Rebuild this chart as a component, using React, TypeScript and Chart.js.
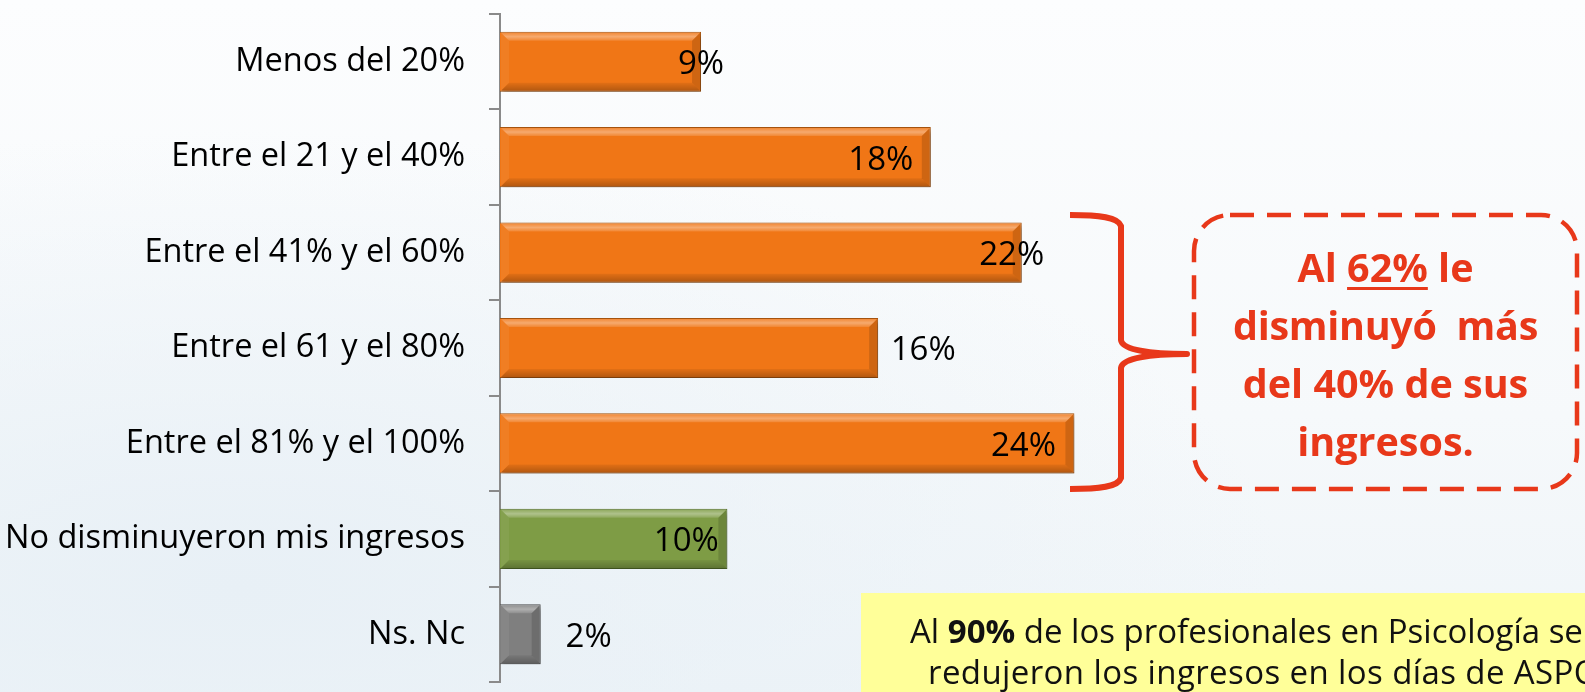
import React, { useEffect, useRef } from "react";
import { Chart, registerables } from "chart.js";

Chart.register(...registerables);

// ---- data ----
const categories = [
  "Menos del 20%",
  "Entre el 21 y el 40%",
  "Entre el 41% y el 60%",
  "Entre el 61 y el 80%",
  "Entre el 81% y el 100%",
  "No disminuyeron mis ingresos",
  "Ns. Nc",
];
const values = [8.4, 18.0, 21.8, 15.8, 24.0, 9.5, 1.7];
const valueLabels = ["9%", "18%", "22%", "16%", "24%", "10%", "2%"];

// ---- styles ----
const barColors = ["#F07616", "#F07616", "#F07616", "#F07616", "#F07616", "#7E9C45", "#7F7F7F"];
const barBorders = ["#A9550F", "#A9550F", "#A9550F", "#A9550F", "#A9550F", "#55702A", "#4F4F4F"];
// horizontal shift (px) of each value label centre relative to the bar end
const labelDx = [0, -50, -10, 45, -51, -41, 48];

const FONT = "'Open Sans', sans-serif";
const RED = "#E8381A";

const bevelPlugin = {
  id: "bevelLabels",
  beforeDatasetsDraw(chart: any) {
    const ctx = chart.ctx;
    ctx.save();
    ctx.shadowColor = "rgba(0,0,0,0.35)";
    ctx.shadowBlur = 5;
    ctx.shadowOffsetX = 2;
    ctx.shadowOffsetY = 3;
  },
  afterDatasetsDraw(chart: any) {
    const ctx = chart.ctx;
    ctx.restore();
    const meta = chart.getDatasetMeta(0);
    const poly = (pts: number[][], fill: string | CanvasGradient) => {
      ctx.beginPath();
      ctx.moveTo(pts[0][0], pts[0][1]);
      for (let k = 1; k < pts.length; k++) ctx.lineTo(pts[k][0], pts[k][1]);
      ctx.closePath();
      ctx.fillStyle = fill;
      ctx.fill();
    };
    meta.data.forEach((bar: any, i: number) => {
      const p = bar.getProps(["x", "y", "base", "height"], true);
      const top = p.y - p.height / 2 + 1;
      const bot = p.y + p.height / 2 - 1;
      const l = Math.min(p.base, p.x) + 1;
      const r = Math.max(p.base, p.x) - 1;
      const b = Math.min(8, (r - l) / 2, p.height / 2);
      ctx.save();
      const gTop = ctx.createLinearGradient(0, top, 0, top + b);
      gTop.addColorStop(0, "rgba(255,255,255,0.15)");
      gTop.addColorStop(0.5, "rgba(255,255,255,0.38)");
      gTop.addColorStop(1, "rgba(255,255,255,0.12)");
      poly([[l, top], [r, top], [r - b, top + b], [l + b, top + b]], gTop);
      const gBot = ctx.createLinearGradient(0, bot - b, 0, bot);
      gBot.addColorStop(0, "rgba(0,0,0,0.06)");
      gBot.addColorStop(1, "rgba(0,0,0,0.25)");
      poly([[l, bot], [r, bot], [r - b, bot - b], [l + b, bot - b]], gBot);
      poly([[r, top], [r, bot], [r - b, bot - b], [r - b, top + b]], "rgba(0,0,0,0.14)");
      poly([[l, top], [l, bot], [l + b, bot - b], [l + b, top + b]], "rgba(255,255,255,0.06)");
      ctx.restore();

      ctx.save();
      ctx.font = `33px ${FONT}`;
      ctx.fillStyle = "#000";
      ctx.textAlign = "center";
      ctx.textBaseline = "middle";
      ctx.fillText(valueLabels[i], p.x + labelDx[i], p.y + 3);
      ctx.restore();
    });
  },
};

export default function App() {
  const canvasRef = useRef<HTMLCanvasElement | null>(null);

  useEffect(() => {
    if (!canvasRef.current) return;
    const chart = new Chart(canvasRef.current, {
      type: "bar",
      data: {
        labels: categories,
        datasets: [
          {
            data: values,
            backgroundColor: barColors,
            borderColor: barBorders,
            borderWidth: 1,
            barPercentage: 0.63,
            categoryPercentage: 1,
          },
        ],
      },
      options: {
        indexAxis: "y",
        animation: false,
        responsive: true,
        maintainAspectRatio: false,
        events: [],
        layout: { padding: { left: 0, right: 8, top: 14, bottom: 10 } },
        plugins: {
          legend: { display: false },
          tooltip: { enabled: false },
          title: { display: false },
        },
        scales: {
          x: { display: false, min: 0, max: 45 },
          y: {
            afterFit: (scale: any) => {
              scale.width = 500;
              scale.paddingTop = 0;
              scale.paddingBottom = 0;
            },
            grid: {
              drawOnChartArea: false,
              drawTicks: true,
              tickLength: 11,
              color: "#8a8a8a",
              lineWidth: 2,
              offset: true,
            },
            border: { display: true, color: "#8a8a8a", width: 2 },
            ticks: {
              color: "#000",
              padding: 24,
              font: { family: FONT, size: 32.5 },
            },
          },
        },
      },
      plugins: [bevelPlugin],
    } as any);
    return () => chart.destroy();
  }, []);

  return (
    <div
      style={{
        position: "absolute",
        left: 0,
        top: 0,
        width: 1585,
        height: 692,
        overflow: "hidden",
        background:
          "radial-gradient(ellipse at 15% 85%, #e8f0f6 0%, rgba(232,240,246,0) 55%), linear-gradient(to bottom, #fcfdfe 0%, #f6f9fb 60%, #eef4f8 100%)",
        fontFamily: FONT,
      }}
    >
      <div style={{ position: "absolute", left: 0, top: 0, width: 1585, height: 692 }}>
        <canvas ref={canvasRef} />
      </div>

      <svg
        width={1585}
        height={692}
        style={{ position: "absolute", left: 0, top: 0, pointerEvents: "none" }}
      >
        <path
          d="M1070 215 C1100 215 1118 217 1121 226 L1121 340 C1122 350 1150 354 1187 354 C1150 354 1122 358 1121 368 L1121 478 C1118 487 1100 489 1070 489"
          fill="none"
          stroke={RED}
          strokeWidth={6}
          strokeLinejoin="round"
        />
        <rect
          x={1194}
          y={215}
          width={383}
          height={274}
          rx={36}
          ry={36}
          fill="none"
          stroke={RED}
          strokeWidth={4.5}
          strokeDasharray="24 13"
        />
      </svg>

      <div
        style={{
          position: "absolute",
          left: 1194,
          top: 238,
          width: 383,
          textAlign: "center",
          color: RED,
          fontWeight: 700,
          fontSize: 39.5,
          lineHeight: "58px",
          whiteSpace: "pre",
        }}
      >
        <div>
          Al{" "}
          <span style={{ textDecoration: "underline", textDecorationThickness: 3, textUnderlineOffset: 5 }}>
            62%
          </span>{" "}
          le
        </div>
        <div style={{ letterSpacing: -0.3 }}>{"disminuyó  más"}</div>
        <div>del 40% de sus</div>
        <div>ingresos.</div>
      </div>

      <div
        style={{
          position: "absolute",
          left: 861,
          top: 593,
          width: 760,
          height: 110,
          background: "#FFFF99",
        }}
      />
      <div
        style={{
          position: "absolute",
          left: 910,
          top: 610,
          fontSize: 33,
          lineHeight: "42px",
          color: "#111",
          whiteSpace: "nowrap",
        }}
      >
        Al <b>90%</b> de los profesionales en Psicología se
      </div>
      <div
        style={{
          position: "absolute",
          left: 928,
          top: 651,
          fontSize: 33,
          lineHeight: "42px",
          color: "#111",
          whiteSpace: "nowrap",
          letterSpacing: 0.4,
        }}
      >
        redujeron los ingresos en los días de ASPO
      </div>
    </div>
  );
}
